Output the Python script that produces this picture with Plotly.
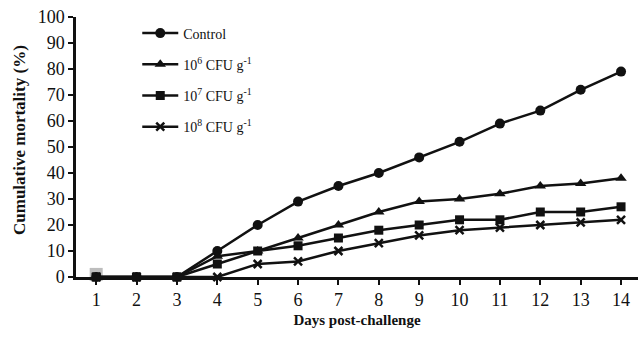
import plotly.graph_objects as go

days = list(range(1, 15))
control = [0, 0, 0, 10, 20, 29, 35, 40, 46, 52, 59, 64, 72, 79]
cfu6 = [0, 0, 0, 8, 10, 15, 20, 25, 29, 30, 32, 35, 36, 38]
cfu7 = [0, 0, 0, 5, 10, 12, 15, 18, 20, 22, 22, 25, 25, 27]
cfu8 = [0, 0, 0, 0, 5, 6, 10, 13, 16, 18, 19, 20, 21, 22]
artifact_x = [1]
artifact_y = [1]

names = ["Control", "10<sup>6</sup> CFU g<sup>-1</sup>",
         "10<sup>7</sup> CFU g<sup>-1</sup>", "10<sup>8</sup> CFU g<sup>-1</sup>"]
series = [control, cfu6, cfu7, cfu8]
symbols = ["circle", "triangle-up", "square", "x-thin"]
sizes = [10, 10, 9, 8]

fig = go.Figure()
fig.add_trace(go.Scatter(x=artifact_x, y=artifact_y, mode="markers", showlegend=False,
                         marker=dict(symbol="square", size=13, color="#bdbdbd"),
                         hoverinfo="skip", cliponaxis=False))
for i, (n, s, sym, sz) in enumerate(zip(names, series, symbols, sizes)):
    fig.add_trace(go.Scatter(
        x=days, y=s, name=n, mode="lines+markers",
        line=dict(color="#111111", width=2.5),
        marker=dict(symbol=sym, size=sz, color="#111111",
                    line=dict(color="#111111", width=2.5 if sym == "x-thin" else 0)),
        legendgroup=f"g{i}", cliponaxis=False,
    ))

font_family = "Liberation Serif, Times New Roman, serif"
fig.update_layout(
    width=638, height=337,
    margin=dict(l=76, r=0, t=17, b=60),
    plot_bgcolor="white", paper_bgcolor="white",
    font=dict(family=font_family, color="#111111", size=18),
    showlegend=True,
    legend=dict(x=0.109, y=0.998, xanchor="left", yanchor="top",
                bgcolor="rgba(0,0,0,0)", font=dict(size=14, family=font_family),
                tracegroupgap=10, itemwidth=36),
    xaxis=dict(range=[0.5, 14.42], tickvals=days, ticks="outside", ticklen=5,
               tickwidth=2, tickcolor="#111111",
               showline=True, linecolor="#111111", linewidth=2.5,
               showgrid=False, zeroline=False,
               title=dict(text="<b>Days post-challenge</b>", font=dict(size=15), standoff=6)),
    yaxis=dict(range=[0, 100], dtick=10, ticks="outside", ticklen=5,
               tickwidth=2, tickcolor="#111111",
               showline=True, linecolor="#111111", linewidth=2.5,
               showgrid=False, zeroline=False),
    annotations=[dict(text="<b>Cumulative mortality (%)</b>", textangle=-90,
                      xref="paper", yref="paper", x=-0.0996, y=0.527,
                      xanchor="center", yanchor="middle", showarrow=False,
                      font=dict(size=17, family=font_family, color="#111111"))],
)

fig.write_html("out.html", config={"displayModeBar": False},
               post_script="document.body.style.margin='0';")
